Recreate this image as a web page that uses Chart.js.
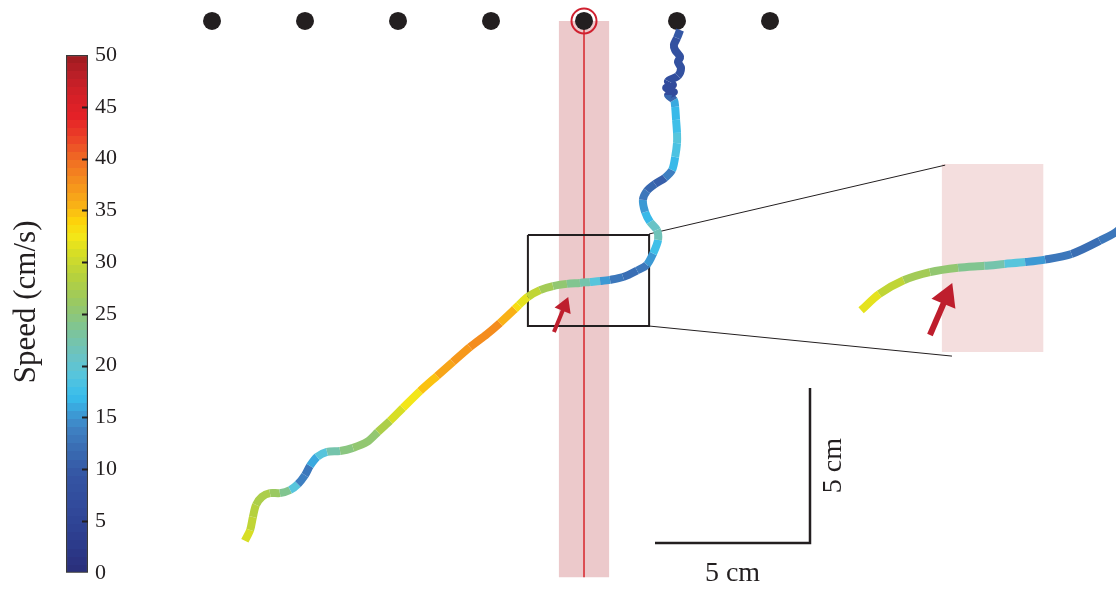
<!DOCTYPE html>
<html>
<head>
<meta charset="utf-8">
<title>Trajectory speed</title>
<script src="https://cdn.jsdelivr.net/npm/chart.js@4"></script>
<style>
  html, body { margin: 0; padding: 0; background: #fff; }
  #wrap { position: relative; width: 1116px; height: 593px; }
  #wrap canvas { position: absolute; left: 0; top: 0; }
</style>
</head>
<body>
<div id="wrap">
  <canvas id="trackChart" width="1116" height="593"></canvas>
  <canvas id="speedBar" width="130" height="593"></canvas>
</div>
<script>
// electrode row (cm from the first electrode), the 5th one is the active one
var electrodeX = [0, 3, 6, 9, 12, 15, 18];
var electrodeY = [0, 0, 0, 0, 0, 0, 0];
var activeElectrode = 4;

// fish trajectory in cm (x to the right, y down from the electrode row) and speed in cm/s
var trackX = [1.06, 1.23, 1.32, 1.42, 1.61, 1.87, 2.19, 2.52, 2.77, 3.00,
              3.16, 3.39, 3.71, 4.13, 4.55, 5.00, 5.35, 5.74, 6.16, 6.71,
              7.26, 7.77, 8.32, 8.87, 9.29, 9.77, 9.90, 10.19, 10.58, 11.00,
              11.45, 11.87, 12.19, 12.52, 12.84, 13.26, 13.71, 14.03, 14.23, 14.39,
              14.35, 14.13, 13.97, 13.90, 14.03, 14.29, 14.61, 14.84, 14.94, 15.00,
              15.00, 14.97, 14.94, 14.90, 14.71, 14.90, 14.65, 14.87, 14.71, 15.03,
              15.13, 15.03, 15.10, 14.94, 14.90, 15.00, 15.10];
var trackY = [16.77, 16.42, 16.00, 15.61, 15.35, 15.23, 15.23, 15.13, 14.94, 14.65,
              14.35, 14.06, 13.90, 13.87, 13.77, 13.58, 13.26, 12.90, 12.48, 11.94,
              11.45, 11.00, 10.52, 10.10, 9.74, 9.29, 9.16, 8.90, 8.68, 8.55,
              8.48, 8.45, 8.42, 8.39, 8.35, 8.26, 8.05, 7.86, 7.50, 7.06,
              6.74, 6.48, 6.16, 5.77, 5.48, 5.26, 5.06, 4.81, 4.39, 3.94,
              3.61, 3.19, 2.77, 2.55, 2.39, 2.29, 2.16, 2.06, 1.94, 1.77,
              1.52, 1.32, 1.16, 0.94, 0.77, 0.55, 0.29];
var trackSpeed = [31, 30, 29, 28, 28, 27, 25, 22, 17, 10,
                  15, 17, 21, 24, 25, 25, 26, 29, 32, 33,
                  36, 37, 37, 39, 37, 34, 33, 30, 28, 26,
                  25, 23, 21, 17, 13, 12, 12, 14, 16, 19,
                  24, 17, 16, 14, 12, 10, 11, 16, 17, 20,
                  18, 17, 17, 15, 7, 6, 7, 6, 7, 8,
                  8, 9, 8, 9, 8, 9, 10];

// stretch of the track repeated in the magnified view
var insetFrom = 26, insetTo = 38;

// colour bar and scale bar
var speedMin = 0, speedMax = 50, speedStep = 5;
var scaleBarCm = 5;

// ---- layout (cm) ----
var view = { x0: -6.839, x1: 29.161, y0: -0.677, y1: 18.452 };
var band = { x0: 11.19, x1: 12.81, y0: 0, y1: 17.94 };
var zoomBox = { x0: 10.19, x1: 14.10, y0: 6.90, y1: 9.84 };
var inset = { cx: 12, cy: 8.516, k: 2.02, tx: 25.18, ty: 8.032, y0: 4.61, y1: 10.68 };
var barCorner = { x: 19.29, y: 16.84 };

var cmapStops = [
  [0, '#2a2e79'], [3, '#2c3c8d'], [6, '#31499a'], [9.5, '#3455a3'], [12, '#3a6db3'],
  [14, '#3f83c4'], [15.5, '#3b9ed8'], [17, '#38bdec'], [19, '#55c5de'], [21, '#6cc3c2'],
  [23.5, '#7ec496'], [26, '#98c865'], [28.5, '#b5d13e'], [31, '#d9df24'], [32.5, '#f4e617'],
  [34, '#fdd20b'], [35.5, '#f9b216'], [38, '#f48a1e'], [40, '#f06a24'], [42, '#eb4227'],
  [44, '#e52127'], [46, '#d52027'], [48, '#bb1f27'], [50, '#9d1b20']
];

function hexRgb(h) {
  return [parseInt(h.substr(1, 2), 16), parseInt(h.substr(3, 2), 16), parseInt(h.substr(5, 2), 16)];
}
function cmap(v) {
  for (var i = 1; i < cmapStops.length; i++) {
    if (v <= cmapStops[i][0]) {
      var a = cmapStops[i - 1], b = cmapStops[i];
      var t = (v - a[0]) / (b[0] - a[0]);
      var ca = hexRgb(a[1]), cb = hexRgb(b[1]);
      return 'rgb(' + ca.map(function(c, k) { return Math.round(c + (cb[k] - c) * t); }).join(',') + ')';
    }
  }
  return cmapStops[cmapStops.length - 1][1];
}
var nBands = 64;
var bandColors = [];
for (var i = 0; i < nBands; i++) bandColors.push(cmap((i + 0.5) * (speedMax - speedMin) / nBands));
function speedColor(v) {
  var i = Math.floor((v - speedMin) / (speedMax - speedMin) * nBands);
  return bandColors[Math.max(0, Math.min(nBands - 1, i))];
}

function rect(x0, y0, x1, y1) {
  return [{x: x0, y: y0}, {x: x1, y: y0}, {x: x1, y: y1}, {x: x0, y: y1}, {x: x0, y: y0}];
}
function toInset(x, y) {
  return { x: inset.tx + (x - inset.cx) * inset.k, y: inset.ty + (y - inset.cy) * inset.k };
}

var trackPts = trackX.map(function(x, i) { return {x: x, y: trackY[i]}; });
var insetPts = [];
for (var j = insetFrom; j <= insetTo; j++) insetPts.push(toInset(trackX[j], trackY[j]));

var insetRectX0 = toInset(band.x0, 0).x, insetRectX1 = toInset(band.x1, 0).x;

function lineSet(data, color, width, order, extra) {
  var ds = { data: data, showLine: true, borderColor: color, borderWidth: width, pointRadius: 0, order: order };
  for (var k in extra) ds[k] = extra[k];
  return ds;
}

var textLayer = {
  id: 'textLayer',
  afterDatasetsDraw: function(chart) {
    var c = chart.ctx, sx = chart.scales.x, sy = chart.scales.y;
    var x0 = sx.getPixelForValue(barCorner.x - scaleBarCm), x1 = sx.getPixelForValue(barCorner.x);
    var yb = sy.getPixelForValue(barCorner.y), yt = sy.getPixelForValue(barCorner.y - scaleBarCm);
    c.save();
    c.fillStyle = '#231f20';
    c.font = "28px 'Liberation Serif', serif";
    c.textAlign = 'center';
    c.textBaseline = 'middle';
    c.fillText(scaleBarCm + ' cm', (x0 + x1) / 2, yb + 31);
    c.translate(x1 + 24, (yb + yt) / 2);
    c.rotate(-Math.PI / 2);
    c.fillText(scaleBarCm + ' cm', 0, 0);
    c.restore();
  }
};

new Chart(document.getElementById('trackChart').getContext('2d'), {
  type: 'scatter',
  data: {
    datasets: [
      // arrows
      lineSet([{x: 11.03, y: 10.03}, {x: 11.37, y: 9.20}], '#be1e2d', 4, 0,
        { pointRadius: [0, 10], pointStyle: 'triangle', rotation: 22, pointBackgroundColor: '#be1e2d', pointBorderWidth: 0 }),
      lineSet([{x: 23.16, y: 10.13}, {x: 23.69, y: 8.90}], '#be1e2d', 6, 0,
        { pointRadius: [0, 15], pointStyle: 'triangle', rotation: 23, pointBackgroundColor: '#be1e2d', pointBorderWidth: 0 }),
      // trajectory and its magnified copy
      lineSet(trackPts, '#3455a3', 8, 1, {
        borderCapStyle: 'butt', tension: 0.3,
        segment: { borderColor: function(c) { return speedColor((trackSpeed[c.p0DataIndex] + trackSpeed[c.p1DataIndex]) / 2); } }
      }),
      lineSet(insetPts, '#3455a3', 8, 1, {
        borderCapStyle: 'butt', tension: 0.3,
        segment: { borderColor: function(c) { return speedColor((trackSpeed[insetFrom + c.p0DataIndex] + trackSpeed[insetFrom + c.p1DataIndex]) / 2); } }
      }),
      // zoom box, connectors and scale bar
      lineSet(rect(zoomBox.x0, zoomBox.y0, zoomBox.x1, zoomBox.y1), '#231f20', 2, 2),
      lineSet([{x: zoomBox.x1, y: zoomBox.y0 - 0.03}, {x: 23.65, y: 4.65}], '#231f20', 1, 2),
      lineSet([{x: zoomBox.x1, y: zoomBox.y1}, {x: 23.87, y: 10.81}], '#231f20', 1, 2),
      lineSet([{x: barCorner.x - scaleBarCm, y: barCorner.y}, {x: barCorner.x, y: barCorner.y},
               {x: barCorner.x, y: barCorner.y - scaleBarCm}], '#231f20', 2.5, 2),
      // electrodes
      { data: electrodeX.map(function(x, i) { return {x: x, y: electrodeY[i]}; }),
        pointRadius: 9, pointHoverRadius: 9, pointBackgroundColor: '#231f20', pointBorderWidth: 0, order: 3 },
      { data: [{x: electrodeX[activeElectrode], y: electrodeY[activeElectrode]}],
        pointRadius: 12.5, pointBackgroundColor: 'rgba(0,0,0,0)', pointBorderColor: '#d0202f', pointBorderWidth: 2, order: 3 },
      lineSet([{x: electrodeX[activeElectrode], y: band.y0}, {x: electrodeX[activeElectrode], y: band.y1}], '#d7262c', 1.5, 4),
      // shaded bands
      lineSet(rect(band.x0, band.y0, band.x1, band.y1), 'rgba(0,0,0,0)', 0, 5,
        { fill: 'shape', backgroundColor: '#ecc9cb' }),
      lineSet(rect(insetRectX0, inset.y0, insetRectX1, inset.y1), 'rgba(0,0,0,0)', 0, 5,
        { fill: 'shape', backgroundColor: '#f4dede' })
    ]
  },
  options: {
    responsive: false,
    animation: false,
    events: [],
    layout: { padding: 0, autoPadding: false },
    plugins: { legend: { display: false }, tooltip: { enabled: false } },
    scales: {
      x: { type: 'linear', display: false, min: view.x0, max: view.x1 },
      y: { type: 'linear', display: false, reverse: true, min: view.y0, max: view.y1 }
    }
  },
  plugins: [textLayer]
});

// colour bar
var barDecor = {
  id: 'barDecor',
  afterDatasetsDraw: function(chart) {
    var c = chart.ctx, s = chart.scales.y, a = chart.chartArea;
    c.save();
    c.strokeStyle = '#231f20';
    c.lineWidth = 2;
    s.ticks.forEach(function(t) {
      if (t.value <= speedMin || t.value >= speedMax) return;
      var y = Math.round(s.getPixelForValue(t.value)) + 0.5;
      c.beginPath();
      c.moveTo(a.right - 6, y);
      c.lineTo(a.right, y);
      c.stroke();
    });
    c.fillStyle = '#231f20';
    c.font = "31px 'Liberation Serif', serif";
    c.textAlign = 'center';
    c.textBaseline = 'middle';
    c.translate(a.left - 39, (a.top + a.bottom) / 2 - 12);
    c.rotate(-Math.PI / 2);
    c.fillText('Speed (cm/s)', 0, 0);
    c.restore();
  }
};

new Chart(document.getElementById('speedBar').getContext('2d'), {
  type: 'bar',
  data: {
    labels: [''],
    datasets: [{
      data: [[speedMin, speedMax]],
      backgroundColor: function(ctx) {
        var a = ctx.chart.chartArea;
        if (!a) return '#3455a3';
        var g = ctx.chart.ctx.createLinearGradient(0, a.bottom, 0, a.top);
        for (var i = 0; i < nBands; i++) {
          g.addColorStop(i / nBands, bandColors[i]);
          g.addColorStop((i + 1) / nBands, bandColors[i]);
        }
        return g;
      },
      borderColor: '#3a3a3a',
      borderWidth: 1.5,
      borderSkipped: false,
      barPercentage: 1,
      categoryPercentage: 1
    }]
  },
  options: {
    responsive: false,
    animation: false,
    events: [],
    layout: { padding: { left: 66, top: 55, bottom: 16 }, autoPadding: false },
    plugins: { legend: { display: false }, tooltip: { enabled: false } },
    scales: {
      x: { display: false },
      y: {
        position: 'right',
        min: speedMin, max: speedMax,
        ticks: { stepSize: speedStep, padding: 7, color: '#231f20', font: { family: "'Liberation Serif', serif", size: 22 } },
        grid: { display: false, drawTicks: false },
        border: { display: false },
        afterFit: function(s) { s.width = 42; }
      }
    }
  },
  plugins: [barDecor]
});
</script>
</body>
</html>
